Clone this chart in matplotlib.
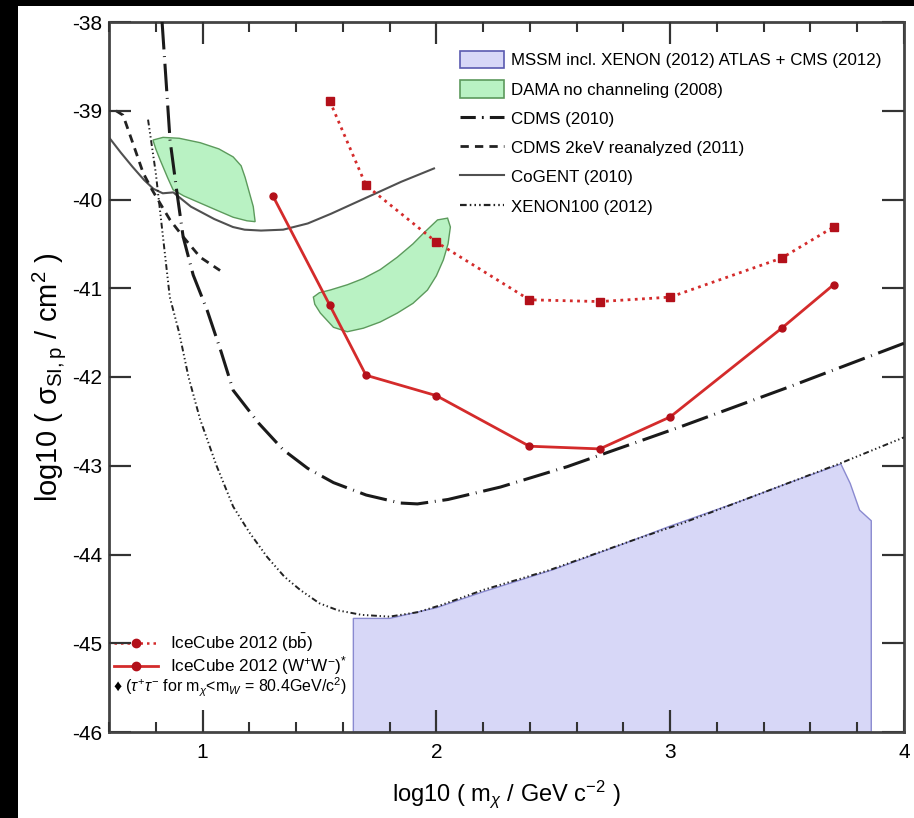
import matplotlib
matplotlib.use("Agg")
import numpy as np
import matplotlib.pyplot as plt
import matplotlib.transforms as mtransforms
from matplotlib.collections import LineCollection
from matplotlib.patches import Polygon, Rectangle, Patch
from matplotlib.lines import Line2D
from matplotlib.ticker import MultipleLocator

plt.rcParams['font.family'] = ['Liberation Sans', 'DejaVu Sans']
plt.rcParams['mathtext.fontset'] = 'custom'
plt.rcParams['mathtext.rm'] = 'Liberation Sans'
plt.rcParams['mathtext.it'] = 'Liberation Sans:italic'
plt.rcParams['axes.unicode_minus'] = False

# ---- data: log10(mass / GeV) vs log10(cross section / cm^2) ----
icecube_bb_x = [1.544, 1.699, 2.0, 2.398, 2.699, 3.0, 3.477, 3.699]
icecube_bb_y = [-38.89, -39.84, -40.48, -41.13, -41.15, -41.10, -40.66, -40.31]

icecube_ww_x = [1.301, 1.544, 1.699, 2.0, 2.398, 2.699, 3.0, 3.477, 3.699]
icecube_ww_y = [-39.96, -41.19, -41.98, -42.21, -42.78, -42.81, -42.45, -41.45, -40.96]

cdms2010_x = [0.827, 0.845, 0.861, 0.891, 0.917, 0.96, 1.02, 1.08, 1.131, 1.24, 1.345,
              1.45, 1.56, 1.70, 1.846, 1.919, 2.05, 2.274, 2.56, 2.70, 3.045, 3.5, 4.0]
cdms2010_y = [-38.0, -38.7, -39.33, -39.93, -40.42, -40.85, -41.25, -41.72, -42.15, -42.52, -42.82,
              -43.03, -43.19, -43.33, -43.42, -43.43, -43.38, -43.24, -43.01, -42.88, -42.56, -42.12, -41.62]

cdms2kev_x = [0.63, 0.66, 0.70, 0.746, 0.784, 0.82, 0.861, 0.917, 0.99, 1.075]
cdms2kev_y = [-39.0, -39.05, -39.35, -39.70, -39.89, -40.05, -40.23, -40.42, -40.65, -40.80]

cogent_x = [0.60, 0.65, 0.70, 0.75, 0.79, 0.83, 0.875, 0.95, 1.05, 1.13, 1.18, 1.25,
            1.345, 1.45, 1.55, 1.65, 1.75, 1.85, 1.99]
cogent_y = [-39.30, -39.47, -39.63, -39.78, -39.88, -39.93, -39.92, -40.08, -40.22, -40.31, -40.34, -40.35,
            -40.34, -40.27, -40.16, -40.04, -39.92, -39.80, -39.65]

xenon100_x = [0.767, 0.80, 0.83, 0.86, 0.90, 0.94, 0.99, 1.06, 1.131, 1.20, 1.277, 1.35, 1.418,
              1.50, 1.58, 1.68, 1.80, 1.92, 2.02, 2.20, 2.49, 2.84, 3.05, 3.40, 3.73, 4.0]
xenon100_y = [-39.10, -39.70, -40.40, -41.10, -41.50, -42.00, -42.48, -43.00, -43.46, -43.75, -44.03, -44.25, -44.40,
              -44.55, -44.63, -44.68, -44.70, -44.65, -44.57, -44.40, -44.17, -43.84, -43.65, -43.30, -42.97, -42.68]

mssm_x = [1.645, 1.645, 1.80, 2.0, 2.2, 2.5, 2.8, 3.0, 3.3, 3.5, 3.73, 3.77, 3.81, 3.86, 3.86]
mssm_y = [-46.0, -44.72, -44.72, -44.60, -44.42, -44.17, -43.88, -43.68, -43.40, -43.20, -42.98, -43.20, -43.50, -43.62, -46.0]

dama1_x = [0.788, 0.831, 0.90, 0.99, 1.07, 1.131, 1.165, 1.182, 1.20, 1.217, 1.225,
           1.19, 1.131, 1.06, 0.99, 0.92, 0.874, 0.85, 0.818, 0.80]
dama1_y = [-39.33, -39.30, -39.31, -39.36, -39.43, -39.52, -39.62, -39.75, -39.92, -40.08, -40.25,
           -40.24, -40.20, -40.12, -40.04, -39.96, -39.89, -39.75, -39.55, -39.43]

dama2_x = [1.474, 1.50, 1.546, 1.62, 1.688, 1.76, 1.833, 1.90, 1.945, 2.005, 2.048, 2.06,
           2.05, 2.03, 2.00, 1.962, 1.90, 1.833, 1.76, 1.688, 1.619, 1.56, 1.504, 1.48]
dama2_y = [-41.10, -41.05, -41.02, -40.96, -40.89, -40.79, -40.65, -40.50, -40.38, -40.23, -40.21, -40.31,
           -40.50, -40.68, -40.86, -41.02, -41.17, -41.28, -41.38, -41.45, -41.49, -41.44, -41.28, -41.18]

x_limits = (0.6, 4.0)
y_limits = (-46.0, -38.0)

# ---- figure ----
fig = plt.figure(figsize=(9.14, 8.18), dpi=100, facecolor='black')
fig.add_artist(Rectangle((18 / 914, 0), 1 - 18 / 914, 1 - 6 / 818,
                         transform=fig.transFigure, facecolor='white',
                         edgecolor='none', zorder=-10))
ax = fig.add_axes([109 / 914, 1 - 732 / 818, 795 / 914, 710 / 818])

mssm_face = '#d7d7f7'
mssm_edge = '#8a8ad0'
dama_face = '#b9f2c3'
dama_edge = '#5c9a5c'
red = '#d42b2b'
dark_red = '#b3101a'

ax.add_patch(Polygon(list(zip(mssm_x, mssm_y)), closed=True, facecolor=mssm_face,
                     edgecolor=mssm_edge, lw=1.0, zorder=1))
ax.add_patch(Polygon(list(zip(dama1_x, dama1_y)), closed=True, facecolor=dama_face,
                     edgecolor=dama_edge, lw=1.0, zorder=1))
ax.add_patch(Polygon(list(zip(dama2_x, dama2_y)), closed=True, facecolor=dama_face,
                     edgecolor=dama_edge, lw=1.0, zorder=1))

cdms_dash = (0, (9, 2.2, 0.3, 2.2))
cdms2_dash = (0, (3, 2.2))
xenon_dash = (0, (3, 1.4, 0.7, 1.4, 0.7, 1.4, 0.7, 1.4))

ax.plot(cogent_x, cogent_y, color='#505050', lw=1.5, zorder=2)
ax.plot(cdms2kev_x, cdms2kev_y, color='#222222', lw=2.0, linestyle=cdms2_dash, zorder=2)
ax.plot(xenon100_x, xenon100_y, color='#222222', lw=1.4, linestyle=xenon_dash, zorder=3)
ax.plot(cdms2010_x, cdms2010_y, color='#1a1a1a', lw=2.2, linestyle=cdms_dash, zorder=3)

ax.plot(icecube_bb_x, icecube_bb_y, color=red, lw=2.0, linestyle=(0, (1, 1.6)),
        marker='s', ms=6, mfc=dark_red, mec=dark_red, zorder=4)
ax.plot(icecube_ww_x, icecube_ww_y, color=red, lw=2.0, linestyle='-',
        marker='o', ms=5, mfc=dark_red, mec=dark_red, zorder=4)

ax.set_xlim(*x_limits)
ax.set_ylim(*y_limits)

ax.set_xlabel(r'log10 ( m$_{\chi}$ / GeV c$^{-2}$ )', fontsize=17, labelpad=12)
ax.set_ylabel(r'log10 ( $\mathrm{\sigma}_{\mathrm{SI,p}}$ / cm$^{2}$ )', fontsize=21, labelpad=3)

# legend of limits / regions (upper right)
h_top = [
    Patch(facecolor=mssm_face, edgecolor='#5a5ab0', lw=1.2),
    Patch(facecolor=dama_face, edgecolor=dama_edge, lw=1.2),
    Line2D([], [], color='#1a1a1a', lw=2.2, linestyle=(0, (5, 2, 0.6, 2))),
    Line2D([], [], color='#222222', lw=2.0, linestyle=cdms2_dash),
    Line2D([], [], color='#505050', lw=1.5),
    Line2D([], [], color='#222222', lw=1.6, linestyle=xenon_dash),
]
l_top = ['MSSM incl. XENON (2012) ATLAS + CMS (2012)', 'DAMA no channeling (2008)',
         'CDMS (2010)', 'CDMS 2keV reanalyzed (2011)', 'CoGENT (2010)', 'XENON100 (2012)']
leg1 = ax.legend(h_top, l_top, loc='upper left', bbox_to_anchor=(460 / 914, 1 - 51 / 818),
                 bbox_transform=fig.transFigure, frameon=False, fontsize=12.2,
                 handlelength=2.6, handleheight=1.2, handletextpad=0.4,
                 labelspacing=0.70, borderpad=0, borderaxespad=0)
ax.add_artist(leg1)

# legend of IceCube limits (lower left)
h_ice = [
    Line2D([], [], color=red, lw=1.8, linestyle=(0, (1, 1.6)), marker='o', ms=6,
           mfc=dark_red, mec=dark_red),
    Line2D([], [], color=red, lw=2.0, marker='o', ms=6, mfc=dark_red, mec=dark_red),
]
l_ice = [r'IceCube 2012 (b$\bar{\mathrm{b}}$)', r'IceCube 2012 (W$^{+}$W$^{-}$)$^{*}$']
ax.legend(h_ice, l_ice, loc='upper left', bbox_to_anchor=(114 / 914, 1 - 632 / 818),
          bbox_transform=fig.transFigure, frameon=False, fontsize=12.3,
          handlelength=2.6, handletextpad=0.7, labelspacing=0.0, borderpad=0,
          borderaxespad=0)
fig.text(113 / 914, 1 - 687 / 818,
         '\u2666 ' + r'($\tau^{+}\tau^{-}$ for m$_{\chi}$<m$_{W}$ = 80.4GeV/c$^{2}$)',
         fontsize=11.5, va='center', ha='left', family=['Liberation Sans', 'DejaVu Sans'])

# axis tick locations and labels
ax.xaxis.set_major_locator(MultipleLocator(1))
ax.xaxis.set_minor_locator(MultipleLocator(0.2))
ax.yaxis.set_major_locator(MultipleLocator(1))
ax.tick_params(which='both', direction='in', top=True, right=True)
ax.tick_params(which='major', length=16, width=1.5, labelsize=15)
ax.tick_params(axis='x', which='minor', length=7, width=1.3)
ax.tick_params(axis='x', which='major', pad=8)
ax.tick_params(axis='y', which='major', pad=5)
for s in ax.spines.values():
    s.set_linewidth(2.0)
    s.set_color('#444444')

# inward tick marks on all four sides, drawn as short segments
tick_col = '#333333'
x_major = [v for v in ax.xaxis.get_majorticklocs() if x_limits[0] < v < x_limits[1]]
x_minor = [v for v in ax.xaxis.get_minorticklocs() if x_limits[0] < v < x_limits[1]]
y_major = [v for v in ax.yaxis.get_majorticklocs() if y_limits[0] < v < y_limits[1]]
len_xmaj, len_xmin, len_y = 22 / 710, 10 / 710, 22 / 795
tx = mtransforms.blended_transform_factory(ax.transData, ax.transAxes)
ty = mtransforms.blended_transform_factory(ax.transAxes, ax.transData)
segs_x = []
for v, L in [(v, len_xmaj) for v in x_major] + [(v, len_xmin) for v in x_minor]:
    segs_x.append([(v, 0), (v, L)])
    segs_x.append([(v, 1), (v, 1 - L)])
segs_y = []
for v in y_major:
    segs_y.append([(0, v), (len_y, v)])
    segs_y.append([(1, v), (1 - len_y, v)])
ax.add_collection(LineCollection(segs_x, transform=tx, colors=tick_col,
                                 linewidths=1.5, zorder=6, clip_on=False),
                  autolim=False)
ax.add_collection(LineCollection(segs_y, transform=ty, colors=tick_col,
                                 linewidths=1.5, zorder=6, clip_on=False),
                  autolim=False)
ax.set_xlim(*x_limits)
ax.set_ylim(*y_limits)

fig.savefig('out.png', dpi=100, facecolor=fig.get_facecolor())
